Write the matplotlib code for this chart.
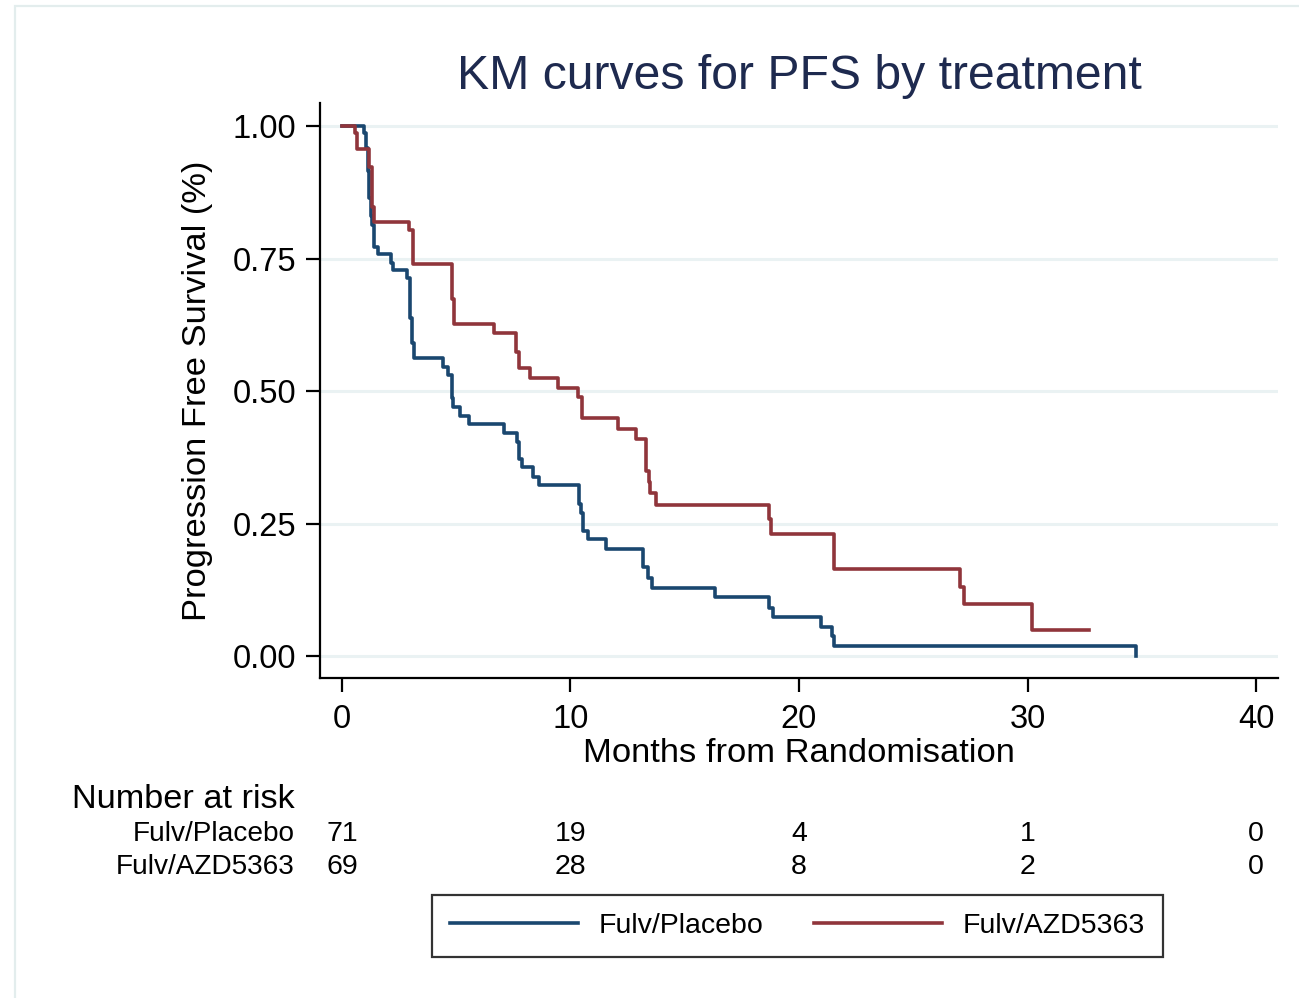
import matplotlib
matplotlib.use("Agg")
import matplotlib.pyplot as plt
from matplotlib.lines import Line2D
from matplotlib.patches import Rectangle
import matplotlib.transforms as mtransforms

plt.rcParams['font.family'] = ['Liberation Sans', 'DejaVu Sans']

# ---------------- data ----------------
title = "KM curves for PFS by treatment"
xlabel = "Months from Randomisation"
ylabel = "Progression Free Survival (%)"
group_names = ["Fulv/Placebo", "Fulv/AZD5363"]

placebo_times = [0.98, 1.05, 1.12, 1.19, 1.25, 1.33, 1.40, 1.59, 2.13, 2.22,
                 2.86, 2.98, 3.06, 3.17, 4.44, 4.65, 4.80, 4.87, 5.16, 5.57,
                 7.09, 7.64, 7.75, 7.86, 8.37, 8.64, 10.37, 10.45, 10.56, 10.78,
                 11.55, 13.19, 13.40, 13.55, 16.32, 18.70, 18.88, 20.95, 21.43,
                 21.53, 34.73]
placebo_surv = [0.986, 0.958, 0.915, 0.864, 0.830, 0.813, 0.772, 0.758, 0.741, 0.728,
                0.714, 0.637, 0.590, 0.562, 0.546, 0.530, 0.486, 0.470, 0.453, 0.437,
                0.420, 0.403, 0.371, 0.356, 0.338, 0.322, 0.287, 0.270, 0.236, 0.220,
                0.202, 0.167, 0.147, 0.129, 0.111, 0.091, 0.073, 0.055, 0.037,
                0.018, 0.0]
placebo_end = 34.73

azd_times = [0.57, 0.64, 1.20, 1.30, 1.41, 2.93, 3.12, 4.81, 4.90, 6.65,
             7.61, 7.75, 8.23, 9.47, 10.35, 10.49, 12.10, 12.87, 13.30, 13.43,
             13.50, 13.74, 18.70, 18.78, 21.52, 27.05, 27.20, 30.18]
azd_surv = [0.986, 0.957, 0.923, 0.848, 0.818, 0.804, 0.739, 0.673, 0.626, 0.610,
            0.574, 0.543, 0.524, 0.506, 0.489, 0.450, 0.429, 0.409, 0.350, 0.329,
            0.307, 0.284, 0.258, 0.230, 0.164, 0.131, 0.098, 0.049]
azd_end = 32.70

risk_times = [0, 10, 20, 30, 40]
risk_placebo = [71, 19, 4, 1, 0]
risk_azd = [69, 28, 8, 2, 0]

xticks = [0, 10, 20, 30, 40]
yticks = [0.00, 0.25, 0.50, 0.75, 1.00]
ytick_labels = ["0.00", "0.25", "0.50", "0.75", "1.00"]

# ---------------- style ----------------
BLUE = "#1a476f"
RED = "#90353b"
GRID = "#eaf2f3"
TITLE_C = "#1e2a4f"

W, H = 1299, 998
fig = plt.figure(figsize=(W / 100, H / 100), dpi=100)
fig.patch.set_facecolor("white")

# faint outer frame
fig.patches.append(Rectangle((15 / W, -0.01), 1.1, (H - 6) / H + 0.01, transform=fig.transFigure,
                             fill=False, edgecolor="#e3eded", linewidth=1.6, zorder=0))

ax_l, ax_r, ax_t, ax_b = 320, 1278, 103, 678
ax = fig.add_axes([ax_l / W, 1 - ax_b / H, (ax_r - ax_l) / W, (ax_b - ax_t) / H])
ax.set_xlim(-0.96, 40.96)
ax.set_ylim(-0.0415, 1.0434)

for yv in yticks:
    ax.axhline(yv, color=GRID, linewidth=2.2, zorder=0)


def km_xy(times, surv, end):
    xs = [0.0] + list(times)
    ys = [1.0] + list(surv)
    if end > xs[-1]:
        xs.append(end)
        ys.append(ys[-1])
    return xs, ys


xp, yp = km_xy(placebo_times, placebo_surv, placebo_end)
xa, ya = km_xy(azd_times, azd_surv, azd_end)
ax.step(xp, yp, where="post", color=BLUE, linewidth=2.6, zorder=3)
ax.step(xa, ya, where="post", color=RED, linewidth=2.6, zorder=3)

for s in ["top", "right"]:
    ax.spines[s].set_visible(False)
for s in ["left", "bottom"]:
    ax.spines[s].set_linewidth(1.6)
    ax.spines[s].set_color("black")

ax.set_xticks(xticks)
ax.set_xticklabels([str(t) for t in xticks])
ax.set_yticks(yticks)
ax.set_yticklabels(ytick_labels)
ax.tick_params(axis="both", direction="out", length=10, width=1.6, labelsize=23.5, pad=7)
ax.tick_params(axis="x", pad=9)

ax.set_xlabel(xlabel, fontsize=24.8, labelpad=2)
ax.set_ylabel(ylabel, fontsize=24.8, labelpad=14)
ax.set_title(title, fontsize=34.7, color=TITLE_C, pad=10)

# number at risk table
trans = mtransforms.blended_transform_factory(ax.transData, fig.transFigure)
fig.text(295 / W, 1 - 800 / H, "Number at risk", fontsize=24.7, ha="right", va="center")
row_y = [834, 867]
for name, vals, yy in zip(group_names, [risk_placebo, risk_azd], row_y):
    fig.text(295 / W, 1 - yy / H, name, fontsize=20.2, ha="right", va="center")
    for t, v in zip(risk_times, vals):
        fig.text(t, 1 - yy / H, str(v), fontsize=20.5, ha="center", va="center", transform=trans)

handles = [Line2D([], [], color=BLUE, linewidth=2.6),
           Line2D([], [], color=RED, linewidth=2.6)]
leg = fig.legend(handles, group_names, loc="center", bbox_to_anchor=(797.5 / W, 1 - 926 / H),
                 ncol=2, fontsize=20.5, frameon=True, fancybox=False, handlelength=4.49,
                 handletextpad=0.74, columnspacing=1.75, borderpad=0.63)
leg.get_frame().set_edgecolor("black")
leg.get_frame().set_linewidth(1.6)

fig.savefig("out.png", dpi=100)
